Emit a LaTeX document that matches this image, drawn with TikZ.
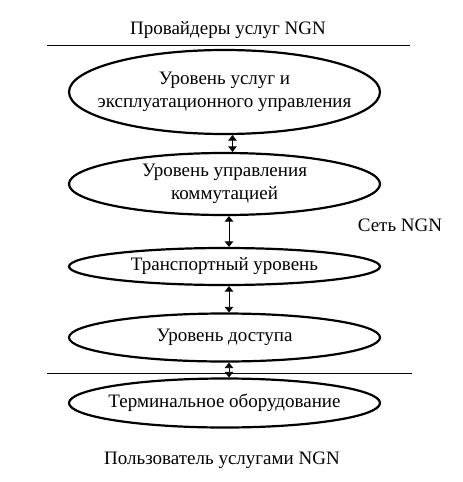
\documentclass[tikz,border=0pt]{standalone}
\usepackage{fontspec}
\setmainfont{Liberation Serif}
\usetikzlibrary{shapes.geometric,arrows.meta}
\tikzset{
  levelbox/.style={ellipse, draw, line width=2.2pt, minimum width=311pt, inner xsep=-40pt, inner ysep=0.75pt, align=center, font=\fontsize{19}{23}\selectfont},
  labeltext/.style={inner sep=0.75pt, font=\fontsize{19}{23}\selectfont},
  twoway/.style={{Triangle[length=5.5pt,width=8.5pt]}-{Triangle[length=5.5pt,width=8.5pt]}, line width=0.8pt},
}
\begin{document}
\begin{tikzpicture}[x=1pt,y=1pt,yscale=-1,xscale=1]
    \useasboundingbox (0,0) rectangle (463,482);
    % Text Node
    \node [labeltext] (prov) at (228,30) {Провайдеры услуг NGN};
    %Straight Lines
    \draw [line width=0.8pt] (47,45) -- (410,45) ;
    %Shape: Ellipse
    \node [levelbox, minimum height=84pt] (serv) at (224.5,92) {Уровень услуг и\\эксплуатационного управления};
    %Shape: Ellipse
    \node [levelbox, minimum height=62pt] (comm) at (224.5,184) {Уровень управления\\коммутацией};
    % Text Node
    \node [labeltext] (ngn) at (400,225) {Сеть NGN};
    %Shape: Ellipse
    \node [levelbox, minimum height=37pt] (trans) at (224.5,266.5) {Транспортный уровень};
    %Shape: Ellipse
    \node [levelbox, minimum height=48pt] (access) at (224.5,337.5) {Уровень доступа};
    %Straight Lines
    \draw [line width=0.8pt] (47,373) -- (412,373) ;
    %Shape: Ellipse
    \node [levelbox, minimum height=49pt] (term) at (224.5,403) {Терминальное оборудование};
    % Text Node
    \node [labeltext] (user) at (222,460) {Пользователь услугами NGN};
    %Arrows
    \draw [twoway] ([xshift=8pt]serv.south) -- ([xshift=8pt]comm.north) ;
    \draw [twoway] ([xshift=4.5pt]comm.south) -- ([xshift=4.5pt]trans.north) ;
    \draw [twoway] ([xshift=4.5pt]trans.south) -- ([xshift=4.5pt]access.north) ;
    \draw [twoway] ([xshift=4.5pt]access.south) -- ([xshift=4.5pt]term.north) ;
\end{tikzpicture}
\end{document}
